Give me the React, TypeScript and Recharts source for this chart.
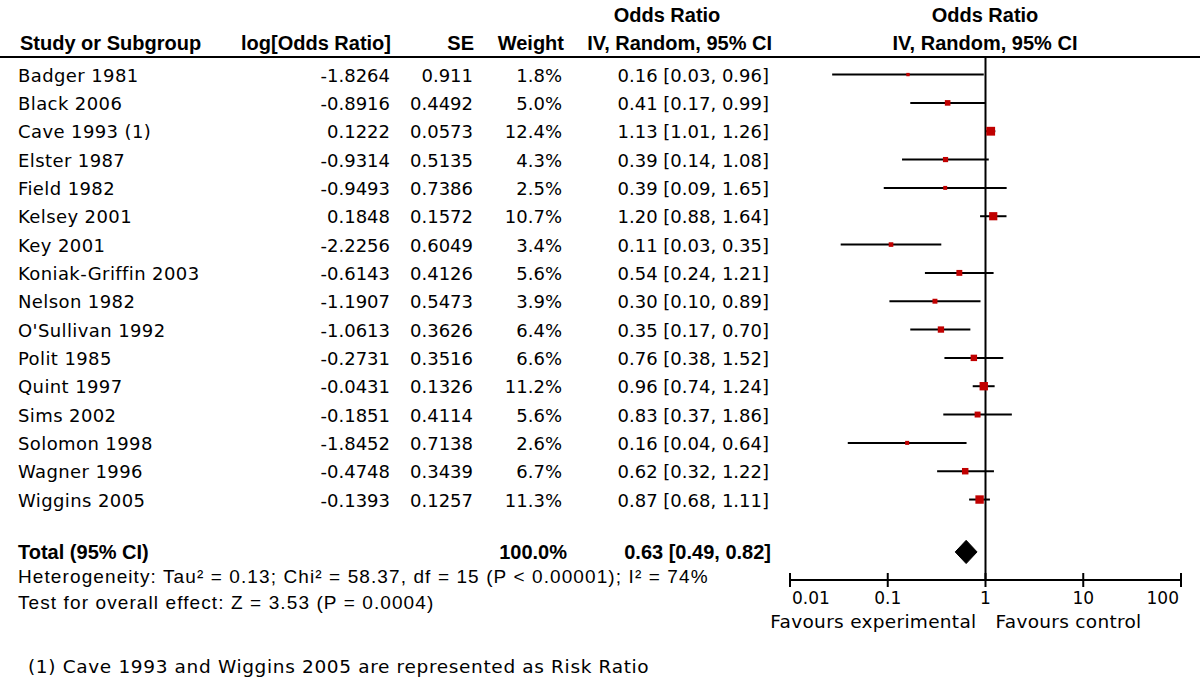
import React from 'react';
import { ComposedChart, Scatter, XAxis, YAxis, ReferenceLine, ReferenceArea } from 'recharts';

const studies = [
  'Badger 1981', 'Black 2006', 'Cave 1993 (1)', 'Elster 1987', 'Field 1982', 'Kelsey 2001',
  'Key 2001', 'Koniak-Griffin 2003', 'Nelson 1982', "O'Sullivan 1992", 'Polit 1985',
  'Quint 1997', 'Sims 2002', 'Solomon 1998', 'Wagner 1996', 'Wiggins 2005',
];
const logOddsRatios = ['-1.8264', '-0.8916', '0.1222', '-0.9314', '-0.9493', '0.1848', '-2.2256', '-0.6143',
  '-1.1907', '-1.0613', '-0.2731', '-0.0431', '-0.1851', '-1.8452', '-0.4748', '-0.1393'];
const standardErrors = ['0.911', '0.4492', '0.0573', '0.5135', '0.7386', '0.1572', '0.6049', '0.4126',
  '0.5473', '0.3626', '0.3516', '0.1326', '0.4114', '0.7138', '0.3439', '0.1257'];
const weights = [1.8, 5.0, 12.4, 4.3, 2.5, 10.7, 3.4, 5.6, 3.9, 6.4, 6.6, 11.2, 5.6, 2.6, 6.7, 11.3];
const oddsRatios = [0.161, 0.41, 1.13, 0.39, 0.387, 1.2, 0.108, 0.54, 0.304, 0.35, 0.76, 0.96, 0.83, 0.158, 0.62, 0.87];
const lowerCI = [0.027, 0.17, 1.01, 0.14, 0.091, 0.88, 0.033, 0.24, 0.104, 0.17, 0.38, 0.74, 0.37, 0.039, 0.32, 0.68];
const upperCI = [0.96, 0.99, 1.26, 1.08, 1.646, 1.64, 0.353, 1.21, 0.889, 0.7, 1.52, 1.24, 1.86, 0.64, 1.22, 1.11];

const totalLabel = 'Total (95% CI)';
const totalWeight = 100.0;
const totalOR = 0.63;
const totalLower = 0.49;
const totalUpper = 0.82;

const xTicks = [0.01, 0.1, 1, 10, 100];
const xTickLabels = ['0.01', '0.1', '1', '10', '100'];
const favoursLeft = 'Favours experimental';
const favoursRight = 'Favours control';

const heterogeneityText = 'Heterogeneity: Tau\u00b2 = 0.13; Chi\u00b2 = 58.37, df = 15 (P < 0.00001); I\u00b2 = 74%';
const overallText = 'Test for overall effect: Z = 3.53 (P = 0.0004)';
const footnoteText = '(1) Cave 1993 and Wiggins 2005 are represented as Risk Ratio';

const TOTAL_ROW = 16.85;

const rows = studies.map((s, i) => ({
  row: i,
  study: s,
  or: oddsRatios[i],
  lo: lowerCI[i],
  hi: upperCI[i],
  weight: weights[i],
}));

const yTicks = [...rows.map((r) => r.row), TOTAL_ROW];

const BODY = '"DejaVu Sans", sans-serif';
const ARIAL = '"Liberation Sans", Arial, sans-serif';

const fmt2 = (v: number) => v.toFixed(2);

const RowTick = (props: any) => {
  const { y, payload } = props;
  const v = payload.value;
  if (Math.abs(v - TOTAL_ROW) < 1e-6) {
    const by = y + 7.5;
    return (
      <g fontFamily={ARIAL} fontWeight="bold" fontSize={20} fill="#000">
        <text x={18} y={by} textAnchor="start">{totalLabel}</text>
        <text x={567} y={by} textAnchor="end">{totalWeight.toFixed(1)}%</text>
        <text x={771} y={by} textAnchor="end">{`${fmt2(totalOR)} [${fmt2(totalLower)}, ${fmt2(totalUpper)}]`}</text>
      </g>
    );
  }
  const i = Math.round(v);
  const by = y + 7;
  return (
    <g fontFamily={BODY} fontSize={18} fill="#000">
      <text x={18} y={by} textAnchor="start" letterSpacing={0.4}>{studies[i]}</text>
      <text x={390} y={by} textAnchor="end">{logOddsRatios[i]}</text>
      <text x={473} y={by} textAnchor="end">{standardErrors[i]}</text>
      <text x={562} y={by} textAnchor="end">{weights[i].toFixed(1)}%</text>
      <text x={769} y={by} textAnchor="end">{`${fmt2(oddsRatios[i])} [${fmt2(lowerCI[i])}, ${fmt2(upperCI[i])}]`}</text>
    </g>
  );
};

const XTick = (props: any) => {
  const { x, y, payload, index } = props;
  const idx = xTicks.indexOf(payload.value);
  const anchor = idx === 0 ? 'start' : idx === xTicks.length - 1 ? 'end' : 'middle';
  const dx = idx === 0 ? 2 : idx === xTicks.length - 1 ? -2 : 0;
  return (
    <g>
      <line x1={x} x2={x} y1={y - 7} y2={y + 7} stroke="#000" strokeWidth={2} />
      <text x={x + dx} y={y + 24} textAnchor={anchor} fontFamily={BODY} fontSize={17} fill="#000">
        {xTickLabels[idx >= 0 ? idx : index]}
      </text>
      {payload.value === 1 && (
        <g fontFamily={BODY} fontSize={18.5} fill="#000" letterSpacing={0.3}>
          <text x={x - 9} y={y + 48} textAnchor="end">{favoursLeft}</text>
          <text x={x + 10} y={y + 48} textAnchor="start">{favoursRight}</text>
        </g>
      )}
    </g>
  );
};

const Square = (props: any) => {
  const { cx, cy, payload } = props;
  const s = 2.5 * Math.sqrt(payload.weight);
  return <rect x={cx - s / 2} y={cy - s / 2} width={s} height={s} fill="#c00000" />;
};

const Diamond = (props: any) => {
  const { x, y, width, height } = props;
  const cx = x + width / 2;
  const cy = y + height / 2;
  const pts = `${x},${cy} ${cx},${y} ${x + width},${cy} ${cx},${y + height}`;
  return <polygon points={pts} fill="#000" stroke="#000" strokeWidth={1} />;
};

export default function App() {
  return (
    <div style={{ position: 'absolute', left: 0, top: 0, width: 1200, height: 687, background: '#fff' }}>
      <ComposedChart
        width={1200}
        height={687}
        data={rows}
        margin={{ top: 57, right: 19, bottom: 0, left: 0 }}
      >
        <XAxis
          type="number"
          dataKey="or"
          scale="log"
          domain={[0.01, 100]}
          ticks={xTicks}
          interval={0}
          allowDataOverflow
          height={107}
          tickLine={false}
          tickSize={0}
          tickMargin={0}
          axisLine={{ stroke: '#000', strokeWidth: 2 }}
          tick={(p: any) => <XTick {...p} />}
        />
        <YAxis
          type="number"
          dataKey="row"
          domain={[-0.62, 17.84]}
          reversed
          width={790}
          ticks={yTicks}
          interval={0}
          allowDataOverflow
          axisLine={false}
          tickLine={false}
          tickSize={0}
          tickMargin={0}
          tick={(p: any) => <RowTick {...p} />}
        />
        <ReferenceLine x={1} stroke="#000" strokeWidth={2} />
        {rows.map((r) => (
          <ReferenceLine
            key={r.study}
            segment={[{ x: r.lo, y: r.row }, { x: r.hi, y: r.row }]}
            stroke="#000"
            strokeWidth={2}
          />
        ))}
        <ReferenceArea
          x1={totalLower}
          x2={totalUpper}
          y1={TOTAL_ROW - 0.41}
          y2={TOTAL_ROW + 0.41}
          shape={(p: any) => <Diamond {...p} />}
        />
        <Scatter dataKey="row" isAnimationActive={false} shape={(p: any) => <Square {...p} />} />
      </ComposedChart>
      <svg
        width={1200}
        height={687}
        style={{ position: 'absolute', left: 0, top: 0, pointerEvents: 'none' }}
      >
        <g fontFamily={ARIAL} fontWeight="bold" fontSize={20} fill="#000">
          <text x={667} y={22} textAnchor="middle">Odds Ratio</text>
          <text x={985} y={22} textAnchor="middle">Odds Ratio</text>
          <text x={20} y={50} textAnchor="start">Study or Subgroup</text>
          <text x={391} y={50} textAnchor="end">log[Odds Ratio]</text>
          <text x={474} y={50} textAnchor="end">SE</text>
          <text x={564} y={50} textAnchor="end">Weight</text>
          <text x={772} y={50} textAnchor="end">IV, Random, 95% CI</text>
          <text x={985} y={50} textAnchor="middle">IV, Random, 95% CI</text>
        </g>
        <line x1={0} x2={1200} y1={57} y2={57} stroke="#000" strokeWidth={2} />
        <g fontFamily={ARIAL} fontSize={19} fill="#000" letterSpacing={1.1}>
          <text x={18} y={583}>{heterogeneityText}</text>
          <text x={18} y={609}>{overallText}</text>
        </g>
        <text x={28} y={673} fontFamily={BODY} fontSize={18.5} letterSpacing={0.65} fill="#000">{footnoteText}</text>
      </svg>
    </div>
  );
}
